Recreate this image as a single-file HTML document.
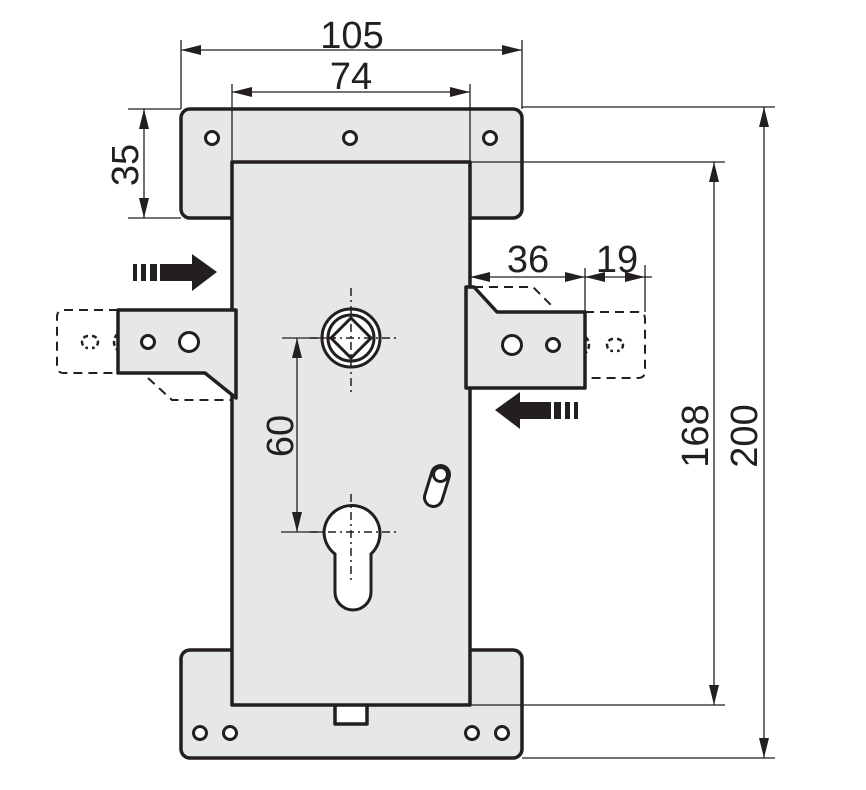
<!DOCTYPE html>
<html><head><meta charset="utf-8"><style>
html,body{margin:0;padding:0;background:#fff;}
svg{display:block;}
text{font-family:"Liberation Sans",Arial,sans-serif;font-size:38px;fill:#231f20;}
</style></head><body>
<svg width="866" height="790" viewBox="0 0 866 790" xmlns="http://www.w3.org/2000/svg">
<defs>
<marker id="a" viewBox="0 0 20 10" refX="20" refY="5" markerWidth="20" markerHeight="10" markerUnits="userSpaceOnUse" orient="auto-start-reverse"><path d="M0,0 L20,5 L0,10 Z" fill="#231f20"/></marker>
</defs>
<g stroke="#231f20" fill="none">
<g stroke-width="2" stroke-dasharray="9,6">
<path d="M118,310 H64 Q57,310 57,317 V366 Q57,373 64,373 H118"/>
<path d="M148,378 L172,400 H232"/>
<path d="M585,312 H638 Q645,312 645,319 V371 Q645,378 638,378 H585"/>
<path d="M474,287 H533 L555,309"/>
</g>
<g stroke-width="2.5" stroke-dasharray="5,3">
<path d="M125,331 A11,11 0 0 0 125,353 M133,331 A11,11 0 0 1 133,353"/>
<path d="M570,334 A11,11 0 0 0 570,356 M578,334 A11,11 0 0 1 578,356"/>
<path d="M88,336 A6,6 0 0 0 88,348 M92,336 A6,6 0 0 1 92,348"/>
<path d="M613,339 A6,6 0 0 0 613,351 M617,339 A6,6 0 0 1 617,351"/>
</g>
<g stroke-width="3.5" fill="#e6e7e9" stroke-linejoin="round">
<rect x="181" y="109" width="341" height="109" rx="9"/>
<rect x="181" y="650" width="341" height="108" rx="9"/>
<rect x="335" y="703" width="32" height="21" fill="#fff"/>
<rect x="232" y="162" width="238" height="543"/>
<path d="M118,310 H236 V398 L205,373 H118 Z"/>
<path d="M466,287 H474 L497,312 H585 V388 H466 Z"/>
</g>
<g stroke-width="3" fill="#fff">
<circle cx="212" cy="138" r="6.5"/><circle cx="350" cy="138" r="6.5"/><circle cx="490" cy="138" r="6.5"/>
<circle cx="200" cy="733" r="6.5"/><circle cx="230" cy="733" r="6.5"/><circle cx="472" cy="733" r="6.5"/><circle cx="502" cy="733" r="6.5"/>
<circle cx="148" cy="342" r="6.5"/><circle cx="189" cy="342" r="9.5"/>
<circle cx="512" cy="345" r="9.5"/><circle cx="553" cy="345" r="6.5"/>
<circle cx="351" cy="338" r="29"/><circle cx="351" cy="338" r="23"/>
<path d="M351,318 L371,338 L351,358 L331,338 Z"/>
<path d="M324,532 A28,28 0 1 1 371,554 V592 A18,18 0 0 1 335,592 V554 A28,28 0 0 1 324,532 Z"/>
<g transform="rotate(17 437 486)"><rect x="428" y="465" width="18" height="42" rx="9"/><circle cx="437" cy="474" r="7"/></g>
</g>
<g stroke-width="1.5" stroke-dasharray="8,4,2,4">
<path d="M351,288 V392 M310,338 H400"/>
<path d="M351,494 V582 M310,532 H400"/>
</g>
<g stroke-width="1.3">
<path d="M181,40 V109 M522,40 V109 M232,84 V162 M470,84 V162"/>
<path d="M128,109 H181 M128,218 H181"/>
<path d="M522,107 H775 M470,162 H725 M470,705 H725 M522,758 H775"/>
<path d="M585,268 V312 M645,265 V312"/>
<path d="M282,338 H336 M281,532 H323"/>
<path d="M181,50 H522" marker-start="url(#a)" marker-end="url(#a)"/>
<path d="M232,92 H470" marker-start="url(#a)" marker-end="url(#a)"/>
<path d="M144,109 V218" marker-start="url(#a)" marker-end="url(#a)"/>
<path d="M714,162 V705" marker-start="url(#a)" marker-end="url(#a)"/>
<path d="M764,107 V758" marker-start="url(#a)" marker-end="url(#a)"/>
<path d="M297,338 V532" marker-start="url(#a)" marker-end="url(#a)"/>
<path d="M470,277 H585" marker-start="url(#a)" marker-end="url(#a)"/>
<path d="M585,277 H645" marker-start="url(#a)" marker-end="url(#a)"/>
<path d="M645,277 H652"/>
</g>
</g>
<g fill="#231f20">
<rect x="133" y="264" width="4" height="17"/><rect x="141" y="264" width="5" height="17"/><rect x="150" y="264" width="7" height="17"/><rect x="160" y="264" width="33" height="17"/>
<path d="M192,254 L217,272 L192,291 Z"/>
<rect x="574" y="402" width="4" height="17"/><rect x="565" y="402" width="5" height="17"/><rect x="554" y="402" width="7" height="17"/><rect x="518" y="402" width="33" height="17"/>
<path d="M520,392 L495,410 L520,429 Z"/>
</g>
<g>
<text x="352" y="48" text-anchor="middle">105</text>
<text x="351" y="89" text-anchor="middle">74</text>
<text x="528" y="272" text-anchor="middle">36</text>
<text x="617" y="272" text-anchor="middle">19</text>
<text transform="translate(138,165) rotate(-90)" text-anchor="middle">35</text>
<text transform="translate(293,436) rotate(-90)" text-anchor="middle">60</text>
<text transform="translate(708,436) rotate(-90)" text-anchor="middle">168</text>
<text transform="translate(757,436) rotate(-90)" text-anchor="middle">200</text>
</g>
</svg>
</body></html>
